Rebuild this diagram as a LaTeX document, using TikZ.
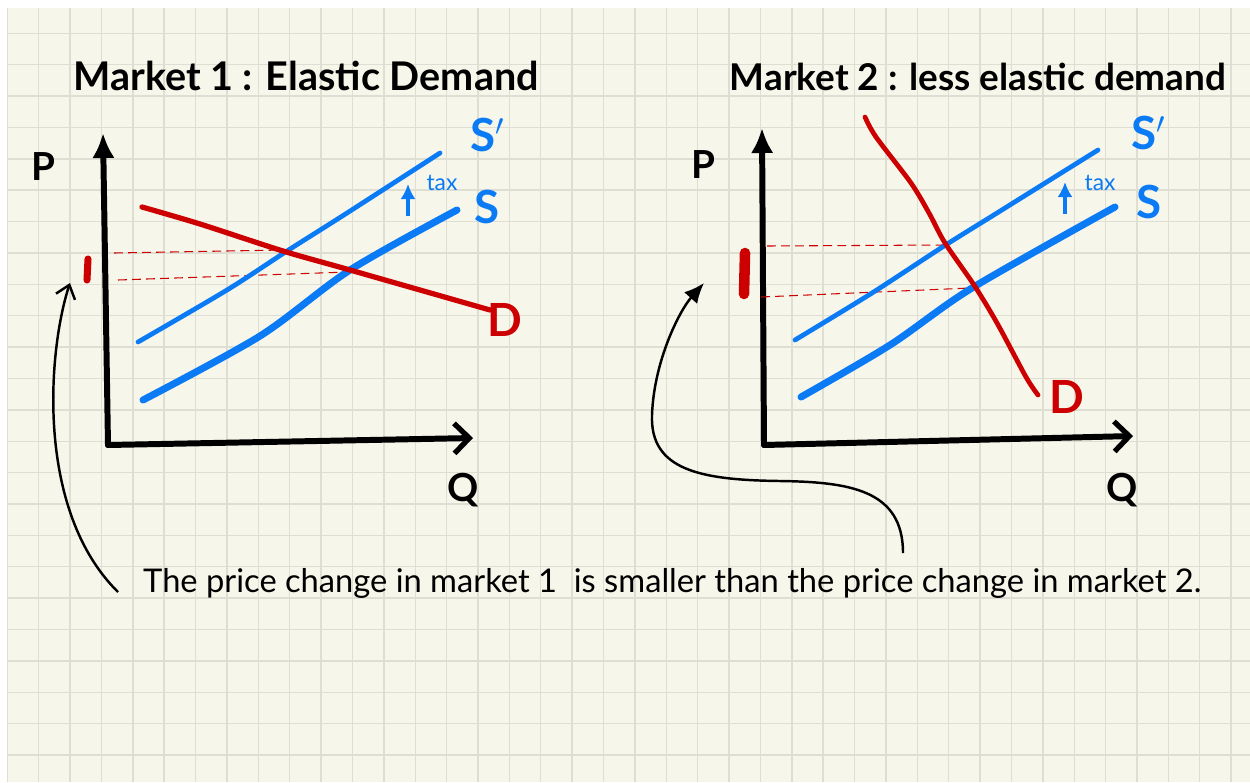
\documentclass[tikz,border=0pt]{standalone}
\usepackage{fontspec}
\setmainfont{Lato}
\usepackage{tikz}
\usetikzlibrary{arrows.meta, positioning, calc}
\definecolor{paper}{HTML}{F7F6EA}
\definecolor{gridc}{HTML}{DFDED3}
\definecolor{penblue}{HTML}{0A7AF5}
\definecolor{penred}{HTML}{CC0000}
\tikzset{
    gridline/.style = {draw=gridc, line width=0.8pt},
    axisline/.style = {black, line width=3.4pt, line cap=round},
    yaxis/.style    = {axisline, -{Latex[length=5mm, width=4.5mm]}},
    xaxis/.style    = {axisline, -{Straight Barb[length=3mm, width=6mm, line width=3pt]}},
    supply/.style   = {draw=penblue, line width=4pt, line cap=round},
    shifted/.style  = {draw=penblue, line width=2.7pt, line cap=round},
    demand/.style   = {draw=penred, line width=3pt, line cap=round},
    guide/.style    = {draw=penred, line width=0.6pt, dash pattern=on 5pt off 3pt},
    tick/.style     = {draw=penred, line cap=round},
    taxarrow/.style = {draw=penblue, line width=1.8pt, -{Latex[length=3mm, width=3mm]}},
    pointer/.style  = {black, line width=1.4pt},
    title/.style    = {font=\bfseries\fontsize{21.5}{26}\selectfont, anchor=base},
    axlbl/.style    = {font=\bfseries\fontsize{22}{26}\selectfont},
    curvelbl/.style = {font=\bfseries\fontsize{26}{30}\selectfont},
    note/.style     = {font=\fontsize{18.6}{22}\selectfont, anchor=base west},
}
\begin{document}
\begin{tikzpicture}[x=0.02cm, y=-0.02cm]
    \useasboundingbox (0,0) rectangle (1250,782);
    \fill[white] (0,0) rectangle (1250,782);
    \fill[paper] (7,8) rectangle (1250,782);
    % squared paper
    \foreach \gx in {0,...,39}
        \draw[gridline] ({7.3+31.38*\gx},8) -- ({7.3+31.38*\gx},782);
    \foreach \gy in {1,...,24}
        \draw[gridline] (7,{1.9+31.38*\gy}) -- (1250,{1.9+31.38*\gy});

    % market 1
    \node[title, font=\bfseries\fontsize{22.5}{26}\selectfont] (title1) at (306,90) {Market 1 : Elastic Demand};
    \coordinate (O1) at (108,445);
    \coordinate (ytip1) at (103,133);
    \coordinate (xtip1) at (473,438);
    \draw[yaxis] (O1) -- (ytip1);
    \draw[xaxis] (O1) -- (xtip1);
    \node[axlbl] (P1) at (43,167) {P};
    \node[axlbl] (Q1) at (463,490) {Q};
    \draw[guide] (114,253) -- (283,250);
    \draw[guide] (118,280) -- (348,272);
    \draw[shifted] plot[smooth, tension=0.5] coordinates {(138,342) (227,290) (287,251) (347,213) (440,153)};
    \draw[supply] plot[smooth, tension=0.5] coordinates {(143,400) (260,336) (350,270) (457,210)};
    \draw[demand] plot[smooth, tension=0.5] coordinates {(142,207) (200,224) (283,251) (350,270) (490,310)};
    \draw[tick, line width=4pt] (88,259) -- (87,280);
    \draw[taxarrow] (408,216) -- (408,184);
    \node[text=penblue, font=\fontsize{13}{15}\selectfont] (tax1) at (442,183) {tax};
    \node[curvelbl, text=penblue] (Sp1) at (488,135) {S$'$};
    \node[curvelbl, text=penblue] (S1) at (487,207) {S};
    \node[curvelbl, text=penred] (D1) at (505,320) {D};

    % market 2
    \node[title, font=\bfseries\fontsize{21}{26}\selectfont] (title2) at (978,90) {Market 2 : less elastic demand};
    \coordinate (O2) at (764,445);
    \coordinate (ytip2) at (762,128);
    \coordinate (xtip2) at (1133,436);
    \draw[yaxis] (O2) -- (ytip2);
    \draw[xaxis] (O2) -- (xtip2);
    \node[axlbl] (P2) at (703,165) {P};
    \node[axlbl] (Q2) at (1122,490) {Q};
    \draw[guide] (767,246) -- (944,245);
    \draw[guide] (761,297) -- (970,288);
    \draw[shifted] plot[smooth, tension=0.5] coordinates {(795,340) (872,293) (944,246) (997,213) (1098,150)};
    \draw[supply] plot[smooth, tension=0.5] coordinates {(801,397) (890,345) (972,288) (1115,207)};
    \draw[demand, line width=2.7pt] plot[smooth] coordinates {(865,117) (876,137) (911,183) (929,213) (945,243) (974,285) (997,323) (1026,377) (1038,395)};
    \draw[tick, line width=6pt] (745,253) -- (744,294);
    \draw[taxarrow] (1065,214) -- (1065,182);
    \node[text=penblue, font=\fontsize{13}{15}\selectfont] (tax2) at (1100,183) {tax};
    \node[curvelbl, text=penblue] (Sp2) at (1149,133) {S$'$};
    \node[curvelbl, text=penblue] (S2) at (1149,202) {S};
    \node[curvelbl, text=penred] (D2) at (1067,397) {D};

    % comparison
    \node[note] (cmp) at (137,592) {The price change in market 1\ \ is smaller than the price change in market 2.};
    \coordinate (arrL) at (118,592);
    \coordinate (tick1) at (70,283);
    \coordinate (arrR) at (903,553);
    \coordinate (tick2) at (704,283);
    \draw[pointer, -{Straight Barb[length=2.5mm, width=4mm]}] (arrL) .. controls (35,510) and (48,350) .. (tick1);
    \draw[pointer, -{Latex[length=4mm, width=3.5mm]}] (arrR) .. controls (903,490) and (850,482) .. (780,481)
        .. controls (700,480) and (650,470) .. (652,415) .. controls (654,360) and (680,310) .. (tick2);
\end{tikzpicture}
\end{document}
